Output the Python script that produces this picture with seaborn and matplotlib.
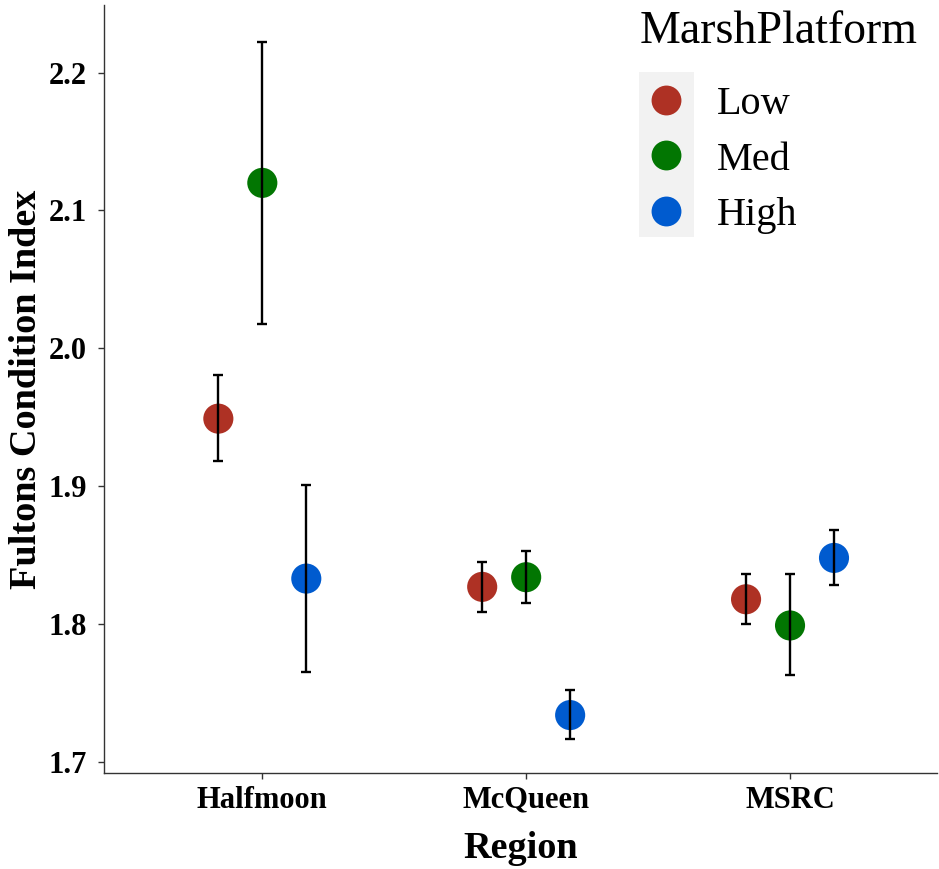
import matplotlib
matplotlib.use('Agg')
import matplotlib.pyplot as plt
import seaborn as sns
import pandas as pd
from matplotlib.lines import Line2D
from matplotlib.patches import Rectangle

# ---- data ----
regions = ['Halfmoon', 'McQueen', 'MSRC']
platforms = ['Low', 'Med', 'High']
mean_low = [1.949, 1.827, 1.818]
mean_med = [2.120, 1.834, 1.799]
mean_high = [1.833, 1.734, 1.848]
lower_low = [1.918, 1.809, 1.800]
lower_med = [2.018, 1.815, 1.763]
lower_high = [1.765, 1.717, 1.828]
upper_low = [1.981, 1.845, 1.836]
upper_med = [2.222, 1.853, 1.836]
upper_high = [1.901, 1.752, 1.868]
colors = {'Low': '#AE3124', 'Med': '#027602', 'High': '#005BCF'}

# ---- tidy table ----
means = {'Low': mean_low, 'Med': mean_med, 'High': mean_high}
lowers = {'Low': lower_low, 'Med': lower_med, 'High': lower_high}
uppers = {'Low': upper_low, 'Med': upper_med, 'High': upper_high}
dodge = 0.5 / 3
rows = []
for j, p in enumerate(platforms):
    for i, r in enumerate(regions):
        rows.append({'Region': r, 'MarshPlatform': p,
                     'xpos': i + (j - 1) * dodge,
                     'FCI': means[p][i], 'lo': lowers[p][i], 'hi': uppers[p][i]})
df = pd.DataFrame(rows)

sns.set_theme(style='white')
plt.rcParams['font.family'] = ['Liberation Serif', 'DejaVu Serif']
plt.rcParams['text.color'] = 'black'

fig = plt.figure(figsize=(9.39, 8.69), dpi=100)
ax = fig.add_axes([104 / 939, 96 / 869, (937 - 104) / 939, (864 - 96) / 869])
ax.set_facecolor('none')

sns.scatterplot(data=df, x='xpos', y='FCI', hue='MarshPlatform',
                hue_order=platforms, palette=colors, s=470, linewidth=0,
                legend=False, ax=ax, zorder=2)
ax.errorbar(df['xpos'], df['FCI'],
            yerr=[df['FCI'] - df['lo'], df['hi'] - df['FCI']],
            fmt='none', ecolor='black', elinewidth=1.7, capsize=3.5,
            capthick=1.7, zorder=3)

ax.set_xlim(-0.6, 2.557)
ax.set_ylim(1.692, 2.249)
ax.set_xticks(range(len(regions)))
ax.set_xticklabels(regions)
ax.set_yticks([1.7, 1.8, 1.9, 2.0, 2.1, 2.2])
ax.set_yticklabels(['1.7', '1.8', '1.9', '2.0', '2.1', '2.2'])

for s in ['top', 'right']:
    ax.spines[s].set_visible(False)
for s in ['left', 'bottom']:
    ax.spines[s].set_color('#333333')
    ax.spines[s].set_linewidth(1.0)
ax.tick_params(axis='both', which='major', length=4, width=1.0, color='#333333',
               labelsize=22, pad=5, left=True, bottom=True)
ax.tick_params(axis='y', pad=8.5)
for lab in ax.get_xticklabels() + ax.get_yticklabels():
    lab.set_fontweight('bold')
    lab.set_color('black')

ax.set_xlabel('Region', fontsize=27.5, fontweight='bold', color='black', labelpad=12)
ax.set_ylabel('Fultons Condition Index', fontsize=27.5, fontweight='bold',
              color='black', labelpad=3)

# legend title as a text, entries as a legend
fig.text(640 / 939, 1 - 43 / 869, 'MarshPlatform', fontsize=33, color='black',
         ha='left', va='baseline')
handles = [Line2D([0], [0], marker='o', linestyle='none', markersize=21.5,
                  markerfacecolor=colors[p], markeredgewidth=0) for p in platforms]
leg = ax.legend(handles, platforms, loc='upper left',
                bbox_to_anchor=(642 / 939, 1 - 86 / 869),
                bbox_transform=fig.transFigure, frameon=False,
                fontsize=29, handlelength=1.2, borderaxespad=0, borderpad=0,
                handletextpad=0.67, labelspacing=0.45)
for t in leg.get_texts():
    t.set_color('black')

ax.add_patch(Rectangle((639 / 939, 1 - 237 / 869), 55 / 939, 165 / 869,
                       transform=fig.transFigure, facecolor='#F2F2F2',
                       edgecolor='none', zorder=0.5, clip_on=False))

fig.savefig('out.png', dpi=100)
